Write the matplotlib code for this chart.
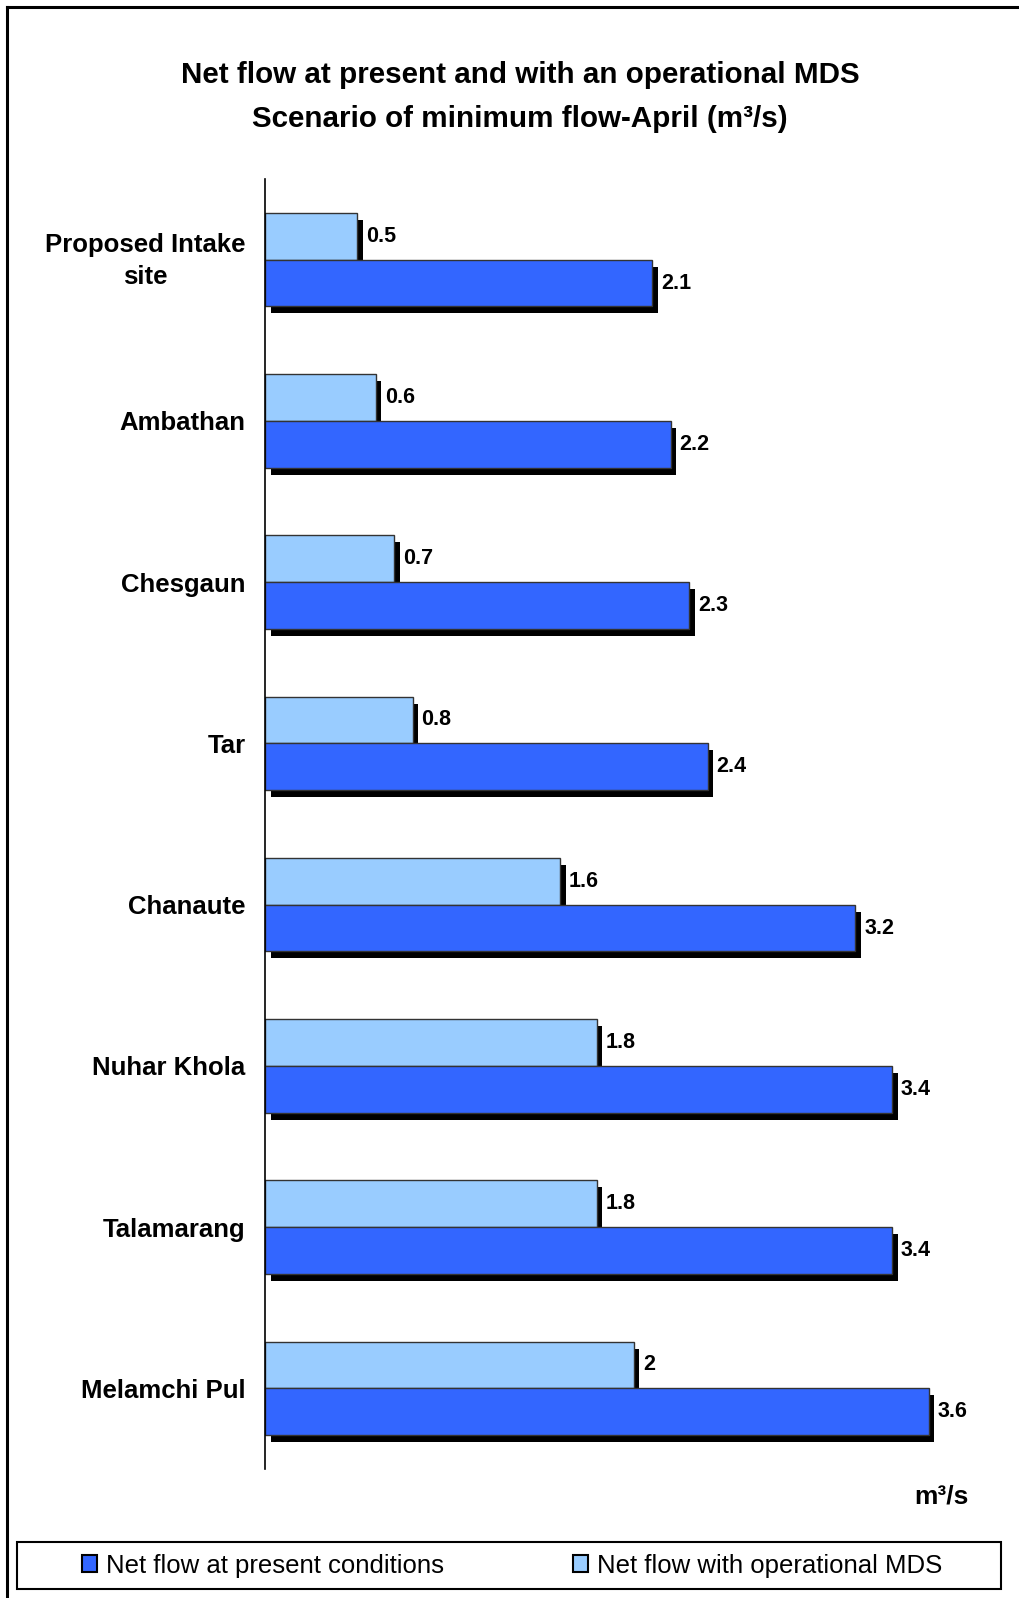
import matplotlib
matplotlib.use("Agg")
import matplotlib.pyplot as plt
from matplotlib.patches import Patch
from matplotlib.lines import Line2D
import matplotlib.patheffects as pe
import matplotlib.transforms as mtransforms

plt.rcParams['font.family'] = ['Liberation Sans', 'DejaVu Sans']

# Data
sites = ["Proposed Intake\nsite", "Ambathan", "Chesgaun", "Tar",
         "Chanaute", "Nuhar Khola", "Talamarang", "Melamchi Pul"]
present = [2.1, 2.2, 2.3, 2.4, 3.2, 3.4, 3.4, 3.6]
with_mds = [0.5, 0.6, 0.7, 0.8, 1.6, 1.8, 1.8, 2.0]
series_names = ["Net flow at present conditions", "Net flow with operational MDS"]

c_present = "#3366FF"
c_mds = "#99CCFF"

W, H = 1019, 1598
fig = plt.figure(figsize=(W / 100, H / 100), dpi=100)

# Axes placed in pixel terms
ax_left, ax_right, ax_top, ax_bottom = 265, 1000, 179, 1469
ax = fig.add_axes([ax_left / W, 1 - ax_bottom / H,
                   (ax_right - ax_left) / W, (ax_bottom - ax_top) / H])

px_per_unit = 184.4
ax.set_xlim(0, (ax_right - ax_left) / px_per_unit)
ax.set_ylim(len(sites) - 0.5, -0.5)

h = 0.29
ypos = list(range(len(sites)))
shadow = [pe.SimplePatchShadow(offset=(4, -5), shadow_rgbFace="black", alpha=1.0),
          pe.Normal()]

bars_mds = ax.barh([y - h / 2 for y in ypos], with_mds, height=h, color=c_mds,
                   edgecolor="#333333", linewidth=1.0)
bars_present = ax.barh([y + h / 2 for y in ypos], present, height=h, color=c_present,
                       edgecolor="#333333", linewidth=1.0)
for b in list(bars_mds) + list(bars_present):
    b.set_path_effects(shadow)

for y, v in zip(ypos, with_mds):
    ax.annotate(f"{v:g}", xy=(v, y - h / 2), xytext=(6.5, 0), textcoords="offset points",
                ha="left", va="center", fontsize=15.5, fontweight="bold")
for y, v in zip(ypos, present):
    ax.annotate(f"{v:g}", xy=(v, y + h / 2), xytext=(6.5, 0), textcoords="offset points",
                ha="left", va="center", fontsize=15.5, fontweight="bold")

ax.set_yticks(ypos)
ax.set_yticklabels(sites, fontsize=18.5, fontweight="bold", multialignment="center",
                   linespacing=1.45)
ax.tick_params(axis="y", length=0, pad=14)
# Lift the two-line label slightly
first = ax.get_yticklabels()[0]
first.set_transform(first.get_transform() +
                    mtransforms.ScaledTranslation(0, 4 / 72, fig.dpi_scale_trans))
ax.set_xticks([])
for s in ["top", "right", "bottom"]:
    ax.spines[s].set_visible(False)
ax.spines["left"].set_linewidth(1.2)
ax.spines["left"].set_color("black")

# Title
fig.text(520 / W, 1 - 75 / H, "Net flow at present and with an operational MDS",
         ha="center", va="center", fontsize=21.3, fontweight="bold")
fig.text(520 / W, 1 - 119 / H, "Scenario of minimum flow-April (m³/s)",
         ha="center", va="center", fontsize=21.3, fontweight="bold")

# Unit label
fig.text(969 / W, 1 - 1496 / H, "m³/s", ha="right", va="center",
         fontsize=19, fontweight="bold")

# Outer frame (left and top edges)
fig.add_artist(Line2D([7 / W, 7 / W], [0, 1 - 7 / H], transform=fig.transFigure,
                      color="black", linewidth=2.2))
fig.add_artist(Line2D([7 / W, 1], [1 - 7 / H, 1 - 7 / H], transform=fig.transFigure,
                      color="black", linewidth=2.2))

# Legend box
lb_l, lb_r, lb_t, lb_b = 17, 1001, 1542, 1589
fig.add_artist(plt.Rectangle((lb_l / W, 1 - lb_b / H), (lb_r - lb_l) / W, (lb_b - lb_t) / H,
                             transform=fig.transFigure, fill=False, edgecolor="black",
                             linewidth=1.5))
handles = [Patch(facecolor=c_present, edgecolor="black", linewidth=1.5),
           Patch(facecolor=c_mds, edgecolor="black", linewidth=1.5)]
fig.legend(handles, series_names, loc="center", ncol=2,
           bbox_to_anchor=(512 / W, 1 - 1565.5 / H), frameon=False, fontsize=18.5,
           handlelength=0.6, handleheight=0.6, handletextpad=0.35, columnspacing=5.0,
           borderpad=0, borderaxespad=0)

fig.savefig("out.png", dpi=100)
